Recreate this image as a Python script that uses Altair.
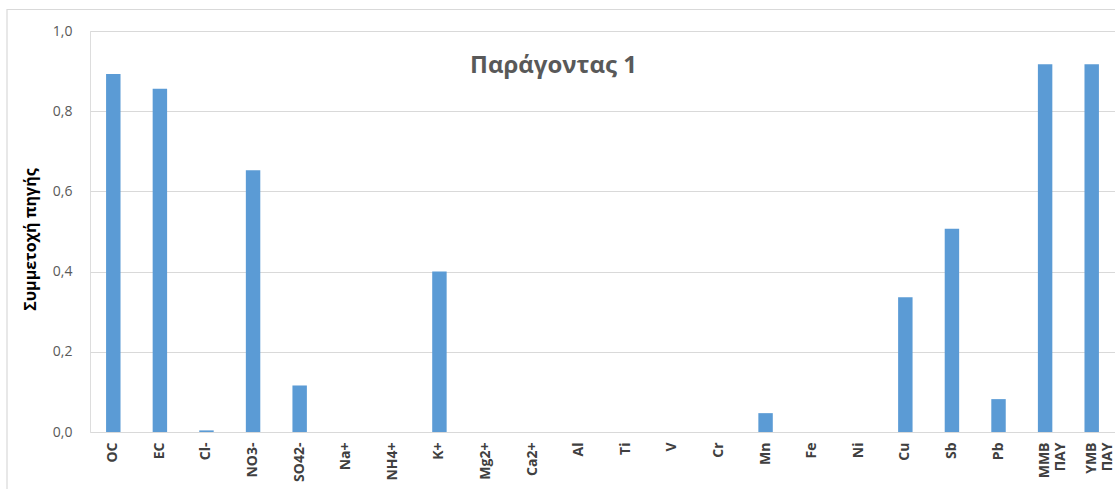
import altair as alt
import pandas as pd

# Source contributions of factor 1
categories = ["OC", "EC", "Cl-", "NO3-", "SO42-", "Na+", "NH4+", "K+", "Mg2+", "Ca2+",
              "Al", "Ti", "V", "Cr", "Mn", "Fe", "Ni", "Cu", "Sb", "Pb",
              "ΜΜΒ\nΠΑΥ", "ΥΜΒ\nΠΑΥ"]
values = [0.893, 0.856, 0.004, 0.653, 0.116, 0.0, 0.0, 0.400, 0.0, 0.0,
          0.0, 0.0, 0.0, 0.0, 0.047, 0.0, 0.0, 0.336, 0.507, 0.082,
          0.917, 0.917]
y_ticks = [0.0, 0.2, 0.4, 0.6, 0.8, 1.0]
title_text = "Παράγοντας 1"
y_title = "Συμμετοχή πηγής"

df = pd.DataFrame({"cat": categories, "val": values})

FONT = "Open Sans"
GREY = "#595959"
GRID = "#d9d9d9"

bars = alt.Chart(df).mark_bar(color="#5b9bd5").encode(
    x=alt.X("cat:N", sort=categories,
            scale=alt.Scale(paddingInner=0.69, paddingOuter=0.345),
            axis=alt.Axis(title=None, labelAngle=-90, labelAlign="right",
                          labelBaseline="middle", labelFont=FONT, labelFontSize=14,
                          labelFontWeight="bold", labelColor="#404040",
                          labelPadding=10, labelLineHeight=16,
                          labelExpr="split(datum.label, '\\n')",
                          domain=False, ticks=False, labelOverlap=False)),
    y=alt.Y("val:Q", scale=alt.Scale(domain=[0, 1], nice=False),
            axis=alt.Axis(values=y_ticks, title=y_title, titleFont=FONT,
                          titleFontSize=16, titleFontWeight="bold", titleColor="#000000",
                          titleAngle=-90, titleX=-60, titleY=208, titleBaseline="middle",
                          titleAlign="center",
                          labelExpr="replace(format(datum.value, '.1f'), '.', ',')",
                          labelFont=FONT, labelFontSize=14, labelColor=GREY,
                          labelPadding=18, domain=False, ticks=False,
                          grid=True, gridColor=GRID, gridWidth=1)),
)

# Outer frame of the chart
frame = alt.Chart(pd.DataFrame({"k": [0]})).mark_rect(
    fillOpacity=0, stroke=GRID, strokeWidth=1.2
).encode(x=alt.value(-83), x2=alt.value(1060), y=alt.value(-21.5), y2=alt.value(470))

heading = alt.Chart(pd.DataFrame({"t": [title_text]})).mark_text(
    font=FONT, fontSize=24, fontWeight="bold", color=GREY,
    align="center", baseline="alphabetic"
).encode(text="t:N", x=alt.value(463.5), y=alt.value(42))

chart = alt.layer(frame, bars, heading).properties(
    width=1025, height=401,
    autosize=alt.AutoSizeParams(type="none"),
    padding={"left": 90, "top": 31, "right": 0, "bottom": 57},
).configure_view(stroke=None).configure(background="white")

chart.save("out.html", embed_options={"renderer": "svg", "actions": False})
